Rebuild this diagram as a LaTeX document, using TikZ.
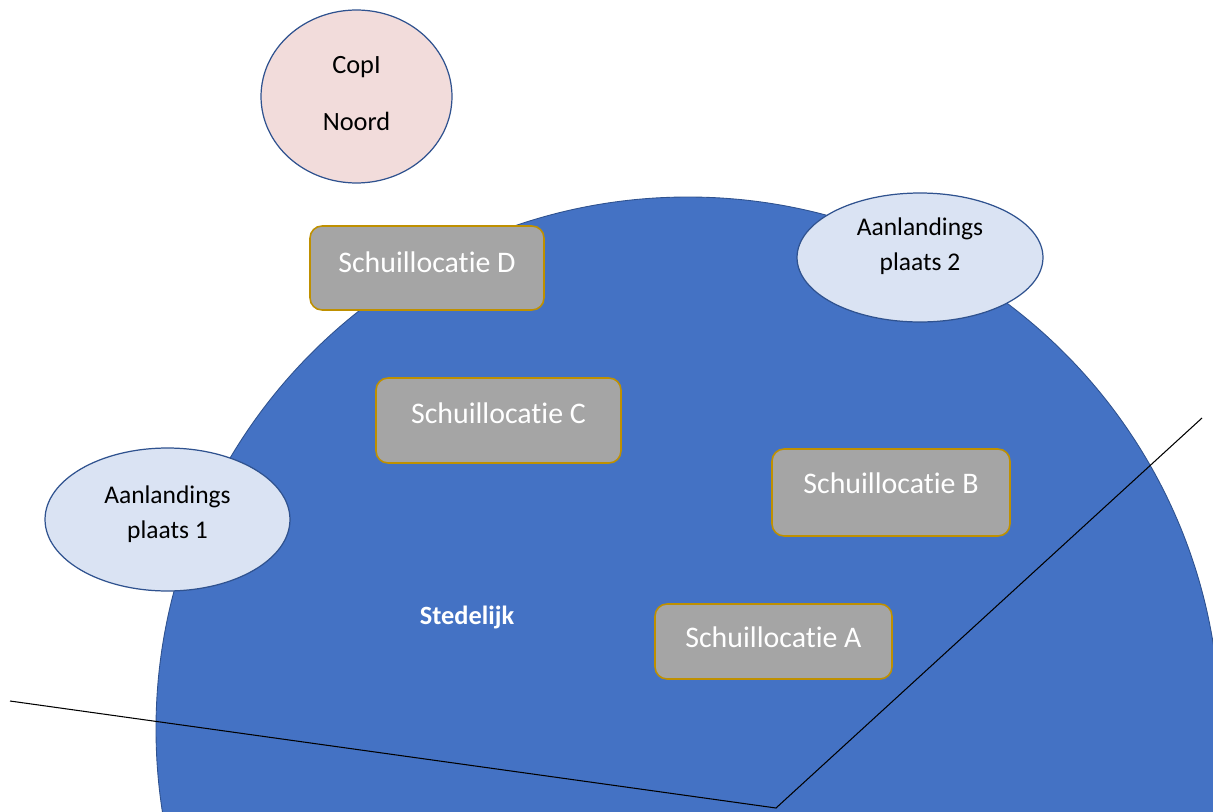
\documentclass[tikz,border=0pt]{standalone}
\usepackage{fontspec}
\setmainfont{Carlito}[Ligatures=NoCommon]
\usetikzlibrary{shapes.geometric}
\definecolor{stadblauw}{HTML}{4472C4}
\definecolor{randblauw}{HTML}{2F528F}
\definecolor{lichtblauw}{HTML}{DAE3F3}
\definecolor{roze}{HTML}{F2DCDB}
\definecolor{schuilgrijs}{HTML}{A5A5A5}
\definecolor{goud}{HTML}{BF9000}

\begin{document}
\begin{tikzpicture}[x=0.02cm, y=-0.02cm,
 plek/.style={ellipse, draw=randblauw, line width=0.7pt, inner sep=0pt},
 schuil/.style={rectangle, rounded corners=0.24cm, draw=goud, line width=0.9pt, fill=schuilgrijs, inner sep=0pt},
 zwarttxt/.style={font=\fontsize{14.5}{20}\selectfont, align=center, text=black},
 wittxt/.style={font=\fontsize{17}{20}\selectfont, text=white}]
%\draw[help lines] (0,0) grid[step=50] (1213,811);
\useasboundingbox (0,0) rectangle (1213,811);

\begin{scope}
 \clip (0,0) rectangle (1213,811);
 \draw[draw=randblauw, fill=stadblauw, line width=0.5pt] (688,729) circle[radius=532];
\end{scope}

 \coordinate (west) at (10,701);
 \coordinate (knik) at (776,808);
 \coordinate (oost) at (1202,418);
 \draw[line width=0.6pt] (west) -- (knik) -- (oost);

 \node[plek, fill=roze, minimum width=3.82cm, minimum height=3.46cm,
   label={[zwarttxt, font=\fontsize{15}{32}\selectfont, yshift=0.06cm]center:CopI\\Noord}] (copi) at (356.5,96.5) {};
 \node[plek, fill=lichtblauw, minimum width=4.9cm, minimum height=2.86cm,
   label={[zwarttxt, yshift=0.1cm]center:Aanlandings\\plaats 1}] (aan1) at (167.5,519.5) {};
 \node[plek, fill=lichtblauw, minimum width=4.92cm, minimum height=2.58cm,
   label={[zwarttxt, yshift=0.22cm]center:Aanlandings\\plaats 2}] (aan2) at (920,257.5) {};

 \node[schuil, minimum width=4.68cm, minimum height=1.68cm,
   label={[wittxt, yshift=0.12cm]center:Schuillocatie D}] (schuilD) at (427,268) {};
 \node[schuil, minimum width=4.9cm, minimum height=1.7cm,
   label={[wittxt, yshift=0.15cm]center:Schuillocatie C}] (schuilC) at (498.5,420.5) {};
 \node[schuil, minimum width=4.76cm, minimum height=1.74cm,
   label={[wittxt, yshift=0.19cm]center:Schuillocatie B}] (schuilB) at (891,492.5) {};
 \node[schuil, minimum width=4.74cm, minimum height=1.5cm,
   label={[wittxt, yshift=0.09cm]center:Schuillocatie A}] (schuilA) at (773.5,641.5) {};

 \node[wittxt, font=\fontsize{15}{18}\selectfont\bfseries] (stad) at (467,617) {Stedelijk};

\end{tikzpicture}
\end{document}
